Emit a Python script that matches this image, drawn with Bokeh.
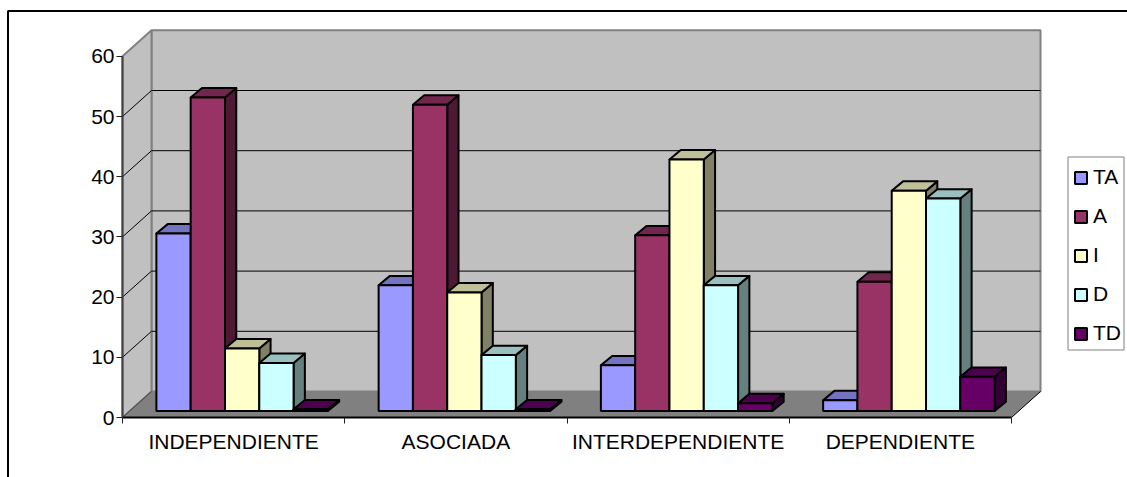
from bokeh.embed import file_html
from bokeh.models import FixedTicker, Legend, LegendItem, LinearAxis, Range1d
from bokeh.plotting import figure
from bokeh.resources import INLINE

# Percentages per attitude and type of relationship
categories = ["INDEPENDIENTE", "ASOCIADA", "INTERDEPENDIENTE", "DEPENDIENTE"]
series_names = ["TA", "A", "I", "D", "TD"]
ta = [29.5, 20.9, 7.6, 1.8]
a = [52.1, 50.9, 29.2, 21.5]
i_vals = [10.4, 19.7, 41.8, 36.6]
d = [8.0, 9.3, 20.9, 35.3]
td = [0.3, 0.3, 1.3, 5.7]
y_ticks = [0, 10, 20, 30, 40, 50, 60]

series_values = [ta, a, i_vals, d, td]
front_colors = ["#9999FF", "#993366", "#FFFFCC", "#CCFFFF", "#660066"]
top_colors = ["#7373BF", "#73264D", "#BFBF99", "#99BFBF", "#4D004D"]
side_colors = ["#4D4D80", "#4D1933", "#808066", "#668080", "#330033"]

WIDTH, HEIGHT = 1127, 477
ORIGIN_X, ORIGIN_Y = 122, 417     # screen position of the front corner of the floor
PX_PER_CAT, PX_PER_UNIT = 222.25, 6.02


def sx(px):
    """Canvas x pixel to category-axis units."""
    return (px - ORIGIN_X) / PX_PER_CAT


def sy(px):
    """Canvas y pixel to value-axis units."""
    return (ORIGIN_Y - px) / PX_PER_UNIT


# Oblique projection offsets expressed in axis units
WALL_DX, WALL_DY = 29 / PX_PER_CAT, 26 / PX_PER_UNIT
BAR_DX, BAR_DY = 11.3 / PX_PER_CAT, 9.4 / PX_PER_UNIT
BASE_DX, BASE_DY = 8.5 / PX_PER_CAT, 6.4 / PX_PER_UNIT
BAR_W = 34.3 / PX_PER_CAT
MARGIN = (1 - BAR_W * len(series_names)) / 2

p = figure(
    width=WIDTH, height=HEIGHT, output_backend="svg", toolbar_location=None,
    x_range=Range1d(sx(0), sx(WIDTH)),
    y_range=Range1d(sy(HEIGHT), sy(0)),
    x_axis_type=None, y_axis_type=None, min_border=0, outline_line_color=None,
    background_fill_color="white", border_fill_color="white",
)
p.grid.visible = False

n_cat = len(categories)
top_val = y_ticks[-1]
WALL_GRAY, FLOOR_GRAY, EDGE_GRAY = "#C0C0C0", "#808080", "#808080"

# Chart area border, open to the right and bottom
p.line([sx(7.5), sx(7.5), sx(WIDTH + 5)], [sy(HEIGHT + 5), sy(10.5), sy(10.5)],
       line_color="black", line_width=2)

# Walls and floor
p.patch([WALL_DX, n_cat + WALL_DX, n_cat + WALL_DX, WALL_DX],
        [WALL_DY, WALL_DY, top_val + WALL_DY, top_val + WALL_DY],
        fill_color=WALL_GRAY, line_color=EDGE_GRAY, line_width=2)
p.patch([0, WALL_DX, WALL_DX, 0], [0, WALL_DY, top_val + WALL_DY, top_val],
        fill_color=WALL_GRAY, line_color=EDGE_GRAY, line_width=2)
p.patch([0, n_cat, n_cat + WALL_DX, WALL_DX], [0, 0, WALL_DY, WALL_DY],
        fill_color=FLOOR_GRAY, line_color=None)

# Gridlines run along the side wall and across the back wall
grid_vals = [t for t in y_ticks[1:-1]]
p.multi_line([[0, WALL_DX, n_cat + WALL_DX] for _ in grid_vals],
             [[t, t + WALL_DY, t + WALL_DY] for t in grid_vals],
             line_color="black", line_width=1)
p.line([0, WALL_DX], [0, WALL_DY], line_color="#404040", line_width=1)
p.line([n_cat, n_cat + WALL_DX], [0, WALL_DY], line_color="black", line_width=1)

# Columns: side, top, then front so the next column hides the previous side
legend_items = []
for s, (name, vals) in enumerate(zip(series_names, series_values)):
    lefts = [g + MARGIN + BASE_DX + s * BAR_W for g in range(n_cat)]
    rights = [x + BAR_W for x in lefts]
    tops = [v + BASE_DY for v in vals]
    p.patches(
        [[r, r + BAR_DX, r + BAR_DX, r] for r in rights],
        [[BASE_DY, BASE_DY + BAR_DY, t + BAR_DY, t] for t in tops],
        fill_color=side_colors[s], line_color="black", line_width=2, line_join="round",
    )
    p.patches(
        [[l, r, r + BAR_DX, l + BAR_DX] for l, r in zip(lefts, rights)],
        [[t, t, t + BAR_DY, t + BAR_DY] for t in tops],
        fill_color=top_colors[s], line_color="black", line_width=2, line_join="round",
    )
    front = p.quad(left=lefts, right=rights, bottom=BASE_DY, top=tops,
                   fill_color=front_colors[s], line_color="black", line_width=2)
    legend_items.append(LegendItem(label=name, renderers=[front]))

FONT = "Liberation Sans"

# Value axis
y_axis = LinearAxis(fixed_location=0, ticker=FixedTicker(ticks=y_ticks), bounds=(0, top_val))
y_axis.axis_line_color = "#404040"
y_axis.axis_line_width = 2
y_axis.major_tick_line_color = "#202020"
y_axis.major_tick_in = 0
y_axis.major_tick_out = 6
y_axis.minor_tick_line_color = None
y_axis.major_label_text_font = FONT
y_axis.major_label_text_font_size = "21px"
y_axis.major_label_text_color = "black"
y_axis.major_label_standoff = 2
p.add_layout(y_axis, "left")

# Category axis: boundary ticks on one axis, centred labels on another
x_ticks = list(range(n_cat + 1))
x_axis = LinearAxis(fixed_location=0, ticker=FixedTicker(ticks=x_ticks), bounds=(0, n_cat))
x_axis.axis_line_color = "black"
x_axis.axis_line_width = 2
x_axis.major_tick_line_color = "#202020"
x_axis.major_tick_in = 0
x_axis.major_tick_out = 6
x_axis.minor_tick_line_color = None
x_axis.major_label_text_color = None
p.add_layout(x_axis, "below")

label_ticks = [g + 0.5 for g in range(n_cat)]
label_axis = LinearAxis(fixed_location=0, ticker=FixedTicker(ticks=label_ticks))
label_axis.axis_line_color = None
label_axis.major_tick_line_color = None
label_axis.minor_tick_line_color = None
label_axis.major_tick_out = 0
label_axis.major_tick_in = 0
label_axis.major_label_overrides = dict(zip(label_ticks, categories))
label_axis.major_label_text_font = FONT
label_axis.major_label_text_font_size = "21px"
label_axis.major_label_text_color = "black"
label_axis.major_label_standoff = 12
p.add_layout(label_axis, "below")

# Legend frame to the right of the plot, entries placed inside it
p.quad(left=sx(1067.5), right=sx(1123.5), bottom=sy(349.5), top=sy(156.5),
       fill_color="white", line_color="#808080", line_width=1)
legend = Legend(
    items=legend_items, location=(1073, 132), orientation="vertical",
    glyph_width=15, glyph_height=15, label_standoff=5, spacing=15,
    label_height=20, label_width=26, padding=8, margin=0,
    label_text_font=FONT, label_text_font_size="21px", label_text_color="black",
    border_line_color=None, background_fill_alpha=0,
)
p.add_layout(legend, "center")

open("out.html", "w").write(file_html(p, INLINE))
